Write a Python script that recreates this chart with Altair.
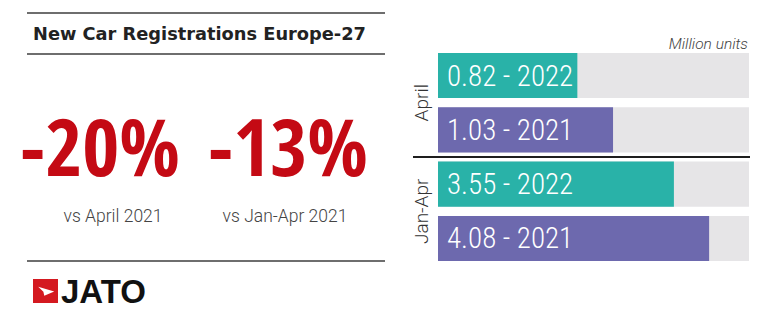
import altair as alt
import pandas as pd

# ---- data ----
periods = ["April", "April", "Jan-Apr", "Jan-Apr"]
years = ["2022", "2021", "2022", "2021"]
values = [0.82, 1.03, 3.55, 4.08]

headline = ["-20%", "-13%"]
comparison = ["vs April 2021", "vs Jan-Apr 2021"]
title_text = "New Car Registrations Europe-27"
unit_text = "Million units"
brand = "JATO"

df = pd.DataFrame({"period": periods, "year": years, "value": values})
df["key"] = df["period"] + " " + df["year"]
df["label"] = [f"{v:.2f} - {y}" for v, y in zip(values, years)]
keys = list(df["key"])

# ---- style ----
TEAL = "#29b2a8"
PURPLE = "#6d69ae"
GRAY = "#e6e5e7"
RED = "#c40a14"
LINE = "#6e6e6e"
COND_BOLD = "Open Sans Condensed, Roboto Condensed, sans-serif"
COND = "Roboto Condensed, Open Sans Condensed, sans-serif"
LIGHT = "Roboto, Lato, sans-serif"

X0, Y0 = 438, 53          # plot-area origin inside the 768x328 canvas
W, H = 311, 208

one = alt.Data(values=[{"k": 0}])

def text_at(txt, ax, ay, **props):
    return alt.Chart(one).mark_text(text=txt, **props).encode(
        x=alt.value(ax - X0), y=alt.value(ay - Y0))

def hline(ax1, ax2, ay, color=LINE, width=2):
    return alt.Chart(one).mark_rule(color=color, strokeWidth=width).encode(
        x=alt.value(ax1 - X0), x2=alt.value(ax2 - X0), y=alt.value(ay - Y0))

yscale = alt.Scale(domain=keys, paddingInner=0.17, paddingOuter=0)
yenc = alt.Y("key:N", sort=keys, axis=None, scale=yscale)
colenc = alt.Color("year:N", legend=None,
                   scale=alt.Scale(domain=["2022", "2021"], range=[TEAL, PURPLE]))

base = alt.Chart(df)

background = base.mark_bar(color=GRAY).encode(
    y=yenc, x=alt.value(0), x2=alt.value(W))

bars_april = base.transform_filter(alt.datum.period == "April").mark_bar().encode(
    y=yenc,
    x=alt.X("value:Q", axis=None, scale=alt.Scale(domain=[0, 1.83])),
    color=colenc)

bars_ytd = base.transform_filter(alt.datum.period == "Jan-Apr").mark_bar().encode(
    y=yenc,
    x=alt.X("value:Q", axis=None, scale=alt.Scale(domain=[0, 4.68])),
    color=colenc)

bar_labels = base.mark_text(align="left", baseline="middle", dy=1, color="white",
                            font=COND, fontWeight=300, fontSize=29).encode(
    y=yenc, x=alt.value(9), text="label:N")

period_labels = base.transform_filter(alt.datum.year == "2021").mark_text(
    angle=270, align="center", baseline="alphabetic", font=LIGHT, fontWeight=300,
    fontSize=19, color="#333333").encode(
    y=alt.Y("key:N", sort=keys, axis=None, bandPosition=0, scale=yscale),
    yOffset=alt.value(-4.6),
    x=alt.value(428 - X0),
    text="period:N")

divider = hline(413, 750, 157, color="#1e1e1e", width=2)

units = text_at(unit_text, 748, 49, align="right", baseline="alphabetic",
                font=LIGHT, fontWeight=300, fontStyle="italic", fontSize=15.5,
                color="#444444")

# left panel
left = [
    hline(27, 385, 13),
    text_at(title_text, 33, 39.5, align="left", baseline="alphabetic",
            font="DejaVu Sans", fontWeight="bold", fontSize=17.8, color="#222222"),
    hline(27, 385, 54),
    text_at(headline[0], 100, 176, align="center", baseline="alphabetic",
            font=COND_BOLD, fontWeight="bold", fontSize=80, color=RED),
    text_at(headline[1], 288, 176, align="center", baseline="alphabetic",
            font=COND_BOLD, fontWeight="bold", fontSize=80, color=RED),
    text_at(comparison[0], 113, 222, align="center", baseline="alphabetic",
            font=LIGHT, fontWeight=300, fontSize=17.5, color="#444444"),
    text_at(comparison[1], 285, 222, align="center", baseline="alphabetic",
            font=LIGHT, fontWeight=300, fontSize=17.5, color="#444444"),
    hline(27, 385, 261),
    alt.Chart(one).mark_rect(color="#d41920").encode(
        x=alt.value(33 - X0), x2=alt.value(58 - X0),
        y=alt.value(279 - Y0), y2=alt.value(303 - Y0)),
    alt.Chart(one).mark_point(
        shape="M -0.9 -0.5 L 0.95 0.05 L -0.2 0.55 L -0.3 0.1 Z",
        filled=True, color="white", opacity=1, size=300).encode(
        x=alt.value(46 - X0), y=alt.value(291 - Y0)),
    text_at(brand, 61, 303, align="left", baseline="alphabetic",
            font="Liberation Sans", fontWeight="bold", fontSize=33, color="#111111"),
]

chart = alt.layer(
    background, bars_april, bars_ytd, bar_labels, period_labels, divider, units, *left,
    data=df,
).resolve_scale(x="independent").properties(
    width=W, height=H,
    autosize=alt.AutoSizeParams(type="none"),
    padding={"left": X0, "top": Y0, "right": 768 - X0 - W, "bottom": 328 - Y0 - H},
    background="white",
).configure_view(stroke=None)

chart.save("out.html", embed_options={"renderer": "svg", "actions": False})
